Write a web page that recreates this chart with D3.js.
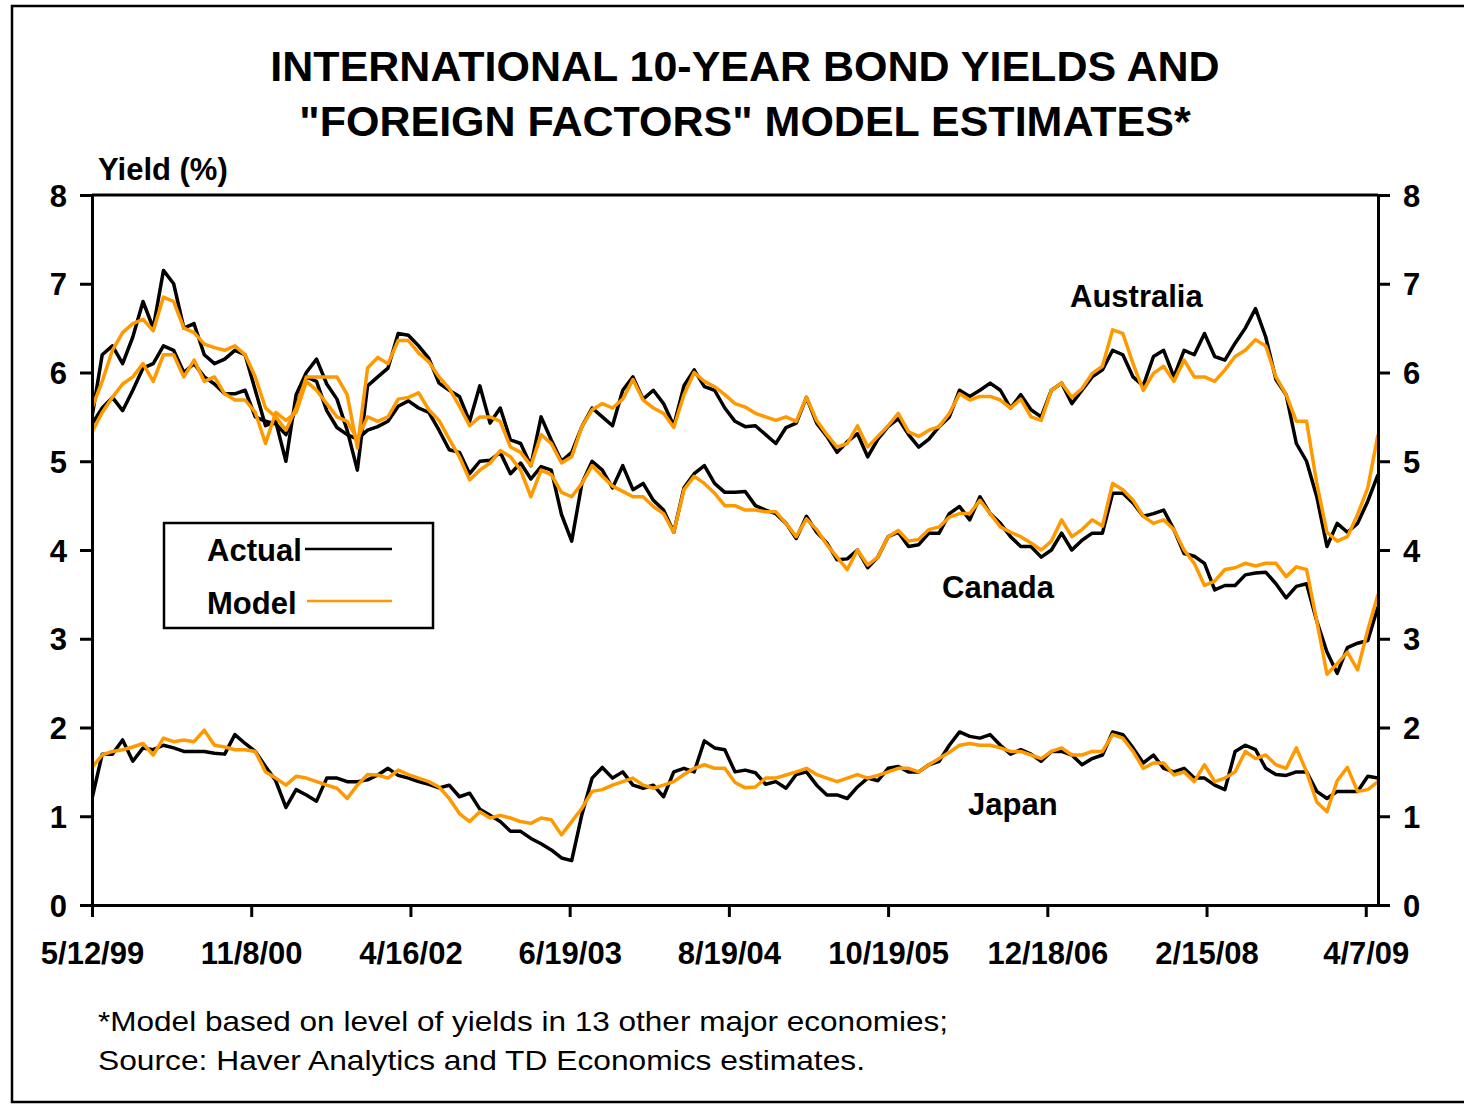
<!DOCTYPE html>
<html>
<head>
<meta charset="utf-8">
<script src="https://cdn.jsdelivr.net/npm/d3@7"></script>
<style>
  html, body { margin: 0; padding: 0; background: #fff; }
  svg { display: block; }
  text { font-family: "Liberation Sans", Arial, Helvetica, sans-serif; fill: #000; }
</style>
</head>
<body>
<svg id="chart" width="1464" height="1104"></svg>
<script>
// ---------- data ----------
const sampleStep = 25; // business days between readings
const tickIndex = [0, 390, 780, 1170, 1560, 1950, 2340, 2730, 3120];
const tickLabels = ["5/12/99", "11/8/00", "4/16/02", "6/19/03", "8/19/04", "10/19/05", "12/18/06", "2/15/08", "4/7/09"];
const yTicks = [0, 1, 2, 3, 4, 5, 6, 7, 8];

const ausActual = [5.5,6.2,6.3,6.1,6.4,6.8,6.5,7.15,7.0,6.5,
 6.55,6.2,6.1,6.15,6.25,6.2,5.8,5.4,5.45,5.0,
 5.75,6.0,6.15,5.87,5.7,5.35,4.9,5.85,5.95,6.05,
 6.44,6.42,6.3,6.16,5.88,5.8,5.73,5.45,5.85,5.43,
 5.6,5.24,5.2,4.95,5.5,5.24,5.0,5.1,5.39,5.6,
 5.5,5.4,5.8,5.95,5.7,5.8,5.65,5.4,5.85,6.03,
 5.84,5.8,5.6,5.45,5.39,5.4,5.3,5.2,5.38,5.43,
 5.72,5.43,5.28,5.1,5.22,5.31,5.05,5.25,5.39,5.48,
 5.3,5.16,5.25,5.39,5.5,5.8,5.73,5.8,5.88,5.8,
 5.6,5.75,5.58,5.5,5.8,5.88,5.65,5.8,5.95,6.03,
 6.25,6.2,5.95,5.85,6.18,6.25,5.95,6.25,6.2,6.44,
 6.18,6.14,6.33,6.5,6.72,6.4,5.92,5.75,5.2,5.0,
 4.6,4.04,4.3,4.2,4.3,4.55,4.85];
const ausModel = [5.6,5.9,6.25,6.45,6.55,6.6,6.47,6.85,6.8,6.5,
 6.45,6.32,6.28,6.25,6.3,6.2,5.95,5.6,5.5,5.35,
 5.6,5.95,5.95,5.95,5.95,5.75,5.15,6.05,6.17,6.1,
 6.36,6.36,6.22,6.12,5.95,5.82,5.62,5.4,5.5,5.5,
 5.45,5.16,5.1,4.95,5.3,5.2,4.98,5.05,5.39,5.58,
 5.65,5.6,5.7,5.92,5.69,5.6,5.54,5.38,5.75,6.0,
 5.9,5.84,5.75,5.65,5.61,5.54,5.5,5.46,5.5,5.45,
 5.72,5.46,5.3,5.16,5.2,5.4,5.16,5.28,5.4,5.54,
 5.33,5.28,5.35,5.39,5.54,5.76,5.69,5.73,5.73,5.69,
 5.6,5.7,5.5,5.46,5.8,5.88,5.72,5.82,5.99,6.07,
 6.48,6.44,6.1,5.8,5.99,6.07,5.9,6.14,5.95,5.95,
 5.9,6.03,6.18,6.25,6.37,6.3,5.95,5.75,5.45,5.45,
 4.75,4.2,4.1,4.15,4.4,4.7,5.3];
const canActual = [5.42,5.6,5.72,5.57,5.8,6.05,6.1,6.3,6.25,6.0,
 6.1,5.95,5.87,5.76,5.76,5.8,5.5,5.45,5.42,5.3,
 5.6,5.95,5.9,5.57,5.38,5.3,5.25,5.35,5.39,5.45,
 5.62,5.68,5.6,5.55,5.35,5.13,5.1,4.86,5.0,5.01,
 5.1,4.86,4.98,4.8,4.94,4.9,4.4,4.1,4.75,5.0,
 4.9,4.7,4.95,4.68,4.75,4.56,4.45,4.2,4.7,4.86,
 4.95,4.75,4.65,4.65,4.66,4.5,4.45,4.41,4.3,4.13,
 4.38,4.2,4.08,3.89,3.9,4.0,3.8,3.92,4.15,4.2,
 4.04,4.06,4.19,4.19,4.41,4.49,4.34,4.6,4.41,4.3,
 4.15,4.04,4.04,3.92,4.0,4.19,4.0,4.11,4.19,4.19,
 4.64,4.64,4.53,4.38,4.41,4.45,4.23,3.96,3.93,3.85,
 3.55,3.6,3.6,3.72,3.74,3.75,3.62,3.46,3.59,3.62,
 3.2,2.85,2.61,2.9,2.95,2.98,3.36];
const canModel = [5.33,5.55,5.72,5.87,5.95,6.1,5.9,6.2,6.2,5.95,
 6.14,5.9,5.95,5.76,5.69,5.69,5.55,5.2,5.55,5.46,
 5.55,5.9,5.8,5.65,5.5,5.45,5.25,5.5,5.45,5.5,
 5.7,5.72,5.77,5.58,5.46,5.25,5.05,4.79,4.9,4.98,
 5.12,5.05,4.9,4.6,4.9,4.85,4.65,4.6,4.75,4.95,
 4.83,4.72,4.66,4.6,4.6,4.49,4.41,4.2,4.68,4.83,
 4.75,4.64,4.5,4.5,4.45,4.45,4.43,4.43,4.3,4.15,
 4.35,4.23,4.06,3.92,3.78,4.0,3.83,3.92,4.15,4.22,
 4.1,4.12,4.23,4.26,4.37,4.41,4.41,4.56,4.41,4.26,
 4.2,4.15,4.08,4.0,4.1,4.34,4.15,4.23,4.34,4.27,
 4.75,4.68,4.56,4.38,4.3,4.34,4.23,4.0,3.85,3.6,
 3.65,3.78,3.8,3.85,3.82,3.85,3.85,3.7,3.81,3.78,
 3.2,2.6,2.72,2.85,2.65,3.1,3.5];
const jpnActual = [1.2,1.7,1.7,1.86,1.62,1.77,1.75,1.8,1.77,1.73,
 1.73,1.73,1.71,1.7,1.92,1.82,1.73,1.56,1.4,1.1,
 1.3,1.24,1.17,1.43,1.43,1.39,1.39,1.41,1.465,1.54,
 1.46,1.43,1.39,1.36,1.32,1.35,1.22,1.26,1.08,1.01,
 0.94,0.83,0.83,0.75,0.69,0.62,0.53,0.5,1.02,1.43,
 1.55,1.43,1.5,1.35,1.315,1.35,1.22,1.5,1.54,1.5,
 1.85,1.77,1.75,1.5,1.52,1.49,1.36,1.39,1.315,1.47,
 1.5,1.35,1.24,1.24,1.2,1.33,1.43,1.4,1.54,1.56,
 1.5,1.5,1.58,1.62,1.8,1.95,1.9,1.88,1.92,1.8,
 1.7,1.75,1.7,1.62,1.73,1.73,1.69,1.58,1.65,1.69,
 1.95,1.92,1.77,1.6,1.69,1.54,1.5,1.54,1.43,1.43,
 1.35,1.3,1.73,1.8,1.75,1.54,1.47,1.46,1.5,1.5,
 1.28,1.2,1.28,1.28,1.28,1.45,1.43];
const jpnModel = [1.55,1.69,1.73,1.75,1.78,1.82,1.69,1.88,1.84,1.86,
 1.84,1.97,1.8,1.78,1.75,1.75,1.73,1.5,1.43,1.35,
 1.45,1.43,1.39,1.35,1.315,1.2,1.35,1.47,1.465,1.43,
 1.52,1.47,1.43,1.39,1.33,1.2,1.03,0.94,1.05,0.98,
 1.01,0.98,0.94,0.92,0.98,0.96,0.79,0.94,1.09,1.28,
 1.3,1.35,1.39,1.43,1.35,1.315,1.35,1.39,1.47,1.54,
 1.58,1.54,1.54,1.38,1.32,1.33,1.43,1.43,1.465,1.5,
 1.54,1.47,1.43,1.39,1.43,1.47,1.43,1.46,1.5,1.54,
 1.54,1.5,1.58,1.65,1.72,1.8,1.82,1.8,1.8,1.77,
 1.73,1.73,1.69,1.65,1.73,1.77,1.69,1.69,1.73,1.73,
 1.92,1.88,1.73,1.54,1.6,1.6,1.465,1.5,1.39,1.58,
 1.39,1.43,1.5,1.73,1.65,1.69,1.58,1.54,1.77,1.5,
 1.16,1.05,1.4,1.55,1.28,1.3,1.39];

const seriesNames = ["Australia", "Canada", "Japan"];
const legendLabels = ["Actual", "Model"];

// ---------- layout ----------
const svg = d3.select("#chart");
const FONT = '"Liberation Sans", Arial, Helvetica, sans-serif';
const plot = { left: 92, right: 1378, top: 195, bottom: 905 };
const ORANGE = "#FF9900";
const FS = 31;

const x = d3.scaleLinear().domain([0, (ausActual.length - 1) * sampleStep]).range([plot.left, plot.right]);
const y = d3.scaleLinear().domain([0, 8]).range([plot.bottom, plot.top]);

// outer frame
svg.append("rect").attr("x", 12).attr("y", 6).attr("width", 1480).attr("height", 1096)
  .attr("fill", "none").attr("stroke", "#000").attr("stroke-width", 2.5);

// title
const title = svg.append("text").attr("text-anchor", "middle").attr("font-weight", "bold")
  .attr("font-size", 43).style("font-family", FONT);
title.append("tspan").attr("x", 745).attr("y", 81).text("INTERNATIONAL 10-YEAR BOND YIELDS AND");
title.append("tspan").attr("x", 745).attr("y", 136).text("\"FOREIGN FACTORS\" MODEL ESTIMATES*");

// y-axis title
svg.append("text").attr("x", 98).attr("y", 180).attr("font-weight", "bold").attr("font-size", FS)
  .text("Yield (%)");

// lines
const line = d3.line().x((d, i) => x(i * sampleStep)).y(d => y(d));
svg.append("defs").append("clipPath").attr("id", "clip")
  .append("rect").attr("x", plot.left).attr("y", plot.top - 10).attr("width", plot.right - plot.left).attr("height", plot.bottom - plot.top + 10);
const g = svg.append("g").attr("clip-path", "url(#clip)");
[ausActual, canActual, jpnActual].forEach(s => {
  g.append("path").datum(s).attr("d", line).attr("fill", "none").attr("stroke", "#000")
    .attr("stroke-width", 3.5).attr("stroke-linejoin", "round");
});
[ausModel, canModel, jpnModel].forEach(s => {
  g.append("path").datum(s).attr("d", line).attr("fill", "none").attr("stroke", ORANGE)
    .attr("stroke-width", 3.5).attr("stroke-linejoin", "round");
});

// axes
const xAxis = d3.axisBottom(x).tickValues(tickIndex).tickFormat((d, i) => tickLabels[i]).tickSize(12).tickSizeOuter(0);
const gx = svg.append("g").attr("transform", `translate(0,${plot.bottom})`).call(xAxis);
gx.select(".domain").attr("stroke-width", 3);
gx.selectAll(".tick line").attr("stroke-width", 3);
gx.selectAll(".tick text").attr("y", 59).attr("dy", 0).attr("font-size", FS).attr("font-weight", "bold")
  .style("font-family", FONT).attr("fill", "#000");

const yLeft = d3.axisLeft(y).tickValues(yTicks).tickFormat(d3.format("d")).tickSize(12).tickSizeOuter(0);
const gyl = svg.append("g").attr("transform", `translate(${plot.left},0)`).call(yLeft);
gyl.select(".domain").attr("stroke-width", 3);
gyl.selectAll(".tick line").attr("stroke-width", 3);
gyl.selectAll(".tick text").attr("x", -25).attr("dy", "0.36em").attr("font-size", FS).attr("font-weight", "bold")
  .style("font-family", FONT).attr("fill", "#000");

const yRight = d3.axisRight(y).tickValues(yTicks).tickFormat(d3.format("d")).tickSize(12).tickSizeOuter(0);
const gyr = svg.append("g").attr("transform", `translate(${plot.right},0)`).call(yRight);
gyr.select(".domain").attr("stroke-width", 3);
gyr.selectAll(".tick line").attr("stroke-width", 3);
gyr.selectAll(".tick text").attr("x", 25).attr("dy", "0.36em").attr("font-size", FS).attr("font-weight", "bold")
  .style("font-family", FONT).attr("fill", "#000");

// top border of plot
svg.append("line").attr("x1", plot.left).attr("x2", plot.right).attr("y1", plot.top).attr("y2", plot.top)
  .attr("stroke", "#000").attr("stroke-width", 3);

// series labels
const labelPos = [[1070, 307], [942, 598], [968, 815]];
seriesNames.forEach((n, i) => {
  svg.append("text").attr("x", labelPos[i][0]).attr("y", labelPos[i][1]).attr("font-size", FS)
    .attr("font-weight", "bold").text(n);
});

// legend
const lg = svg.append("g");
lg.append("rect").attr("x", 164).attr("y", 523).attr("width", 269).attr("height", 105)
  .attr("fill", "#fff").attr("stroke", "#000").attr("stroke-width", 2.5);
const legendY = [[561, 549], [614, 601]];
const legendColor = ["#000", ORANGE];
const legendLineX = [[305, 392], [307, 392]];
legendLabels.forEach((l, i) => {
  lg.append("text").attr("x", 207).attr("y", legendY[i][0]).attr("font-size", FS).attr("font-weight", "bold").text(l);
  lg.append("line").attr("x1", legendLineX[i][0]).attr("x2", legendLineX[i][1])
    .attr("y1", legendY[i][1]).attr("y2", legendY[i][1]).attr("stroke", legendColor[i]).attr("stroke-width", 2.5);
});

// footnotes
svg.append("text").attr("x", 98).attr("y", 1031).attr("font-size", 28)
  .attr("textLength", 850).attr("lengthAdjust", "spacingAndGlyphs")
  .text("*Model based on level of yields in 13 other major economies;");
svg.append("text").attr("x", 98).attr("y", 1070).attr("font-size", 28)
  .attr("textLength", 767).attr("lengthAdjust", "spacingAndGlyphs")
  .text("Source: Haver Analytics and TD Economics estimates.");
</script>
</body>
</html>
